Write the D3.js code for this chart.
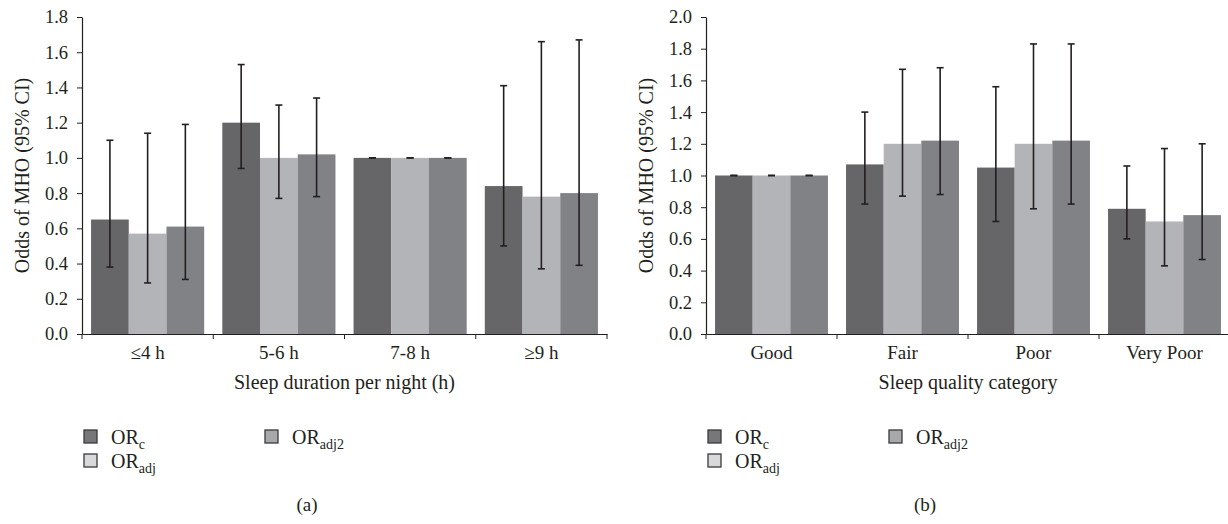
<!DOCTYPE html>
<html>
<head>
<meta charset="utf-8">
<script src="https://cdn.jsdelivr.net/npm/d3@7"></script>
<style>
  body { margin: 0; background: #fff; }
  svg text { font-family: "Liberation Serif", "DejaVu Serif", serif; fill: #231f20; }
</style>
</head>
<body>
<div id="chart"></div>
<script>
// odds ratios of MHO with 95% CI
const series = ['ORc', 'ORadj', 'ORadj2'];

const durationCats = ['≤4 h', '5-6 h', '7-8 h', '≥9 h'];
const durationOR = [
  [0.65, 0.57, 0.61],
  [1.20, 1.00, 1.02],
  [1.00, 1.00, 1.00],
  [0.84, 0.78, 0.80]
];
const durationLow = [
  [0.38, 0.29, 0.31],
  [0.94, 0.77, 0.78],
  [1.00, 1.00, 1.00],
  [0.50, 0.37, 0.39]
];
const durationHigh = [
  [1.10, 1.14, 1.19],
  [1.53, 1.30, 1.34],
  [1.00, 1.00, 1.00],
  [1.41, 1.66, 1.67]
];
const durationTicks = [0, 0.2, 0.4, 0.6, 0.8, 1.0, 1.2, 1.4, 1.6, 1.8];

const qualityCats = ['Good', 'Fair', 'Poor', 'Very Poor'];
const qualityOR = [
  [1.00, 1.00, 1.00],
  [1.07, 1.20, 1.22],
  [1.05, 1.20, 1.22],
  [0.79, 0.71, 0.75]
];
const qualityLow = [
  [1.00, 1.00, 1.00],
  [0.82, 0.87, 0.88],
  [0.71, 0.79, 0.82],
  [0.60, 0.43, 0.47]
];
const qualityHigh = [
  [1.00, 1.00, 1.00],
  [1.40, 1.67, 1.68],
  [1.56, 1.83, 1.83],
  [1.06, 1.17, 1.20]
];
const qualityTicks = [0, 0.2, 0.4, 0.6, 0.8, 1.0, 1.2, 1.4, 1.6, 1.8, 2.0];

const barColors = ['#666668', '#b3b4b8', '#818286'];
const legendColors = ['#77777a', '#d9d9db', '#a7a8ab'];

const W = 1228, H = 524;
const svg = d3.select('#chart').append('svg')
  .attr('width', W)
  .attr('height', H);

function drawPanel(opts) {
  const { left, right, top, bottom, cats, or, lo, hi, ticks, xTitle, tag, tagX } = opts;
  const g = svg.append('g');

  const x = d3.scaleBand().domain(cats).range([left, right]).paddingInner(0).paddingOuter(0);
  const inner = d3.scaleBand().domain(series).range([0, x.bandwidth()]).paddingInner(0).paddingOuter(0.24);
  const y = d3.scaleLinear().domain([0, d3.max(ticks)]).range([bottom, top]);

  // bars
  cats.forEach((c, i) => {
    const grp = g.append('g').attr('transform', `translate(${x(c)},0)`);
    series.forEach((s, j) => {
      grp.append('rect')
        .attr('x', inner(s))
        .attr('y', y(or[i][j]))
        .attr('width', inner.bandwidth())
        .attr('height', y(0) - y(or[i][j]))
        .attr('fill', barColors[j]);
    });
    // error bars
    series.forEach((s, j) => {
      const cx = inner(s) + inner.bandwidth() / 2;
      grp.append('line')
        .attr('x1', cx).attr('x2', cx)
        .attr('y1', y(lo[i][j])).attr('y2', y(hi[i][j]))
        .attr('stroke', '#231f20').attr('stroke-width', 1.6);
      [lo[i][j], hi[i][j]].forEach(v => {
        grp.append('line')
          .attr('x1', cx - 3.5).attr('x2', cx + 3.5)
          .attr('y1', y(v)).attr('y2', y(v))
          .attr('stroke', '#231f20').attr('stroke-width', 1.6);
      });
    });
  });

  // y axis
  const yAxis = g.append('g')
    .attr('transform', `translate(${left},0)`)
    .call(d3.axisLeft(y).tickValues(ticks).tickFormat(d3.format('.1f')).tickSize(5).tickSizeOuter(0).tickPadding(9));
  yAxis.selectAll('text').style('font-size', '18.5px');

  // x axis with ticks on band boundaries
  const xAxis = g.append('g')
    .attr('transform', `translate(0,${bottom})`)
    .call(d3.axisBottom(x).tickSize(0).tickPadding(12));
  xAxis.selectAll('text').style('font-size', '19px');
  const bounds = cats.map(c => x(c)).concat([x(cats[cats.length - 1]) + x.bandwidth()]);
  xAxis.selectAll('.bound').data(bounds).enter().append('line')
    .attr('class', 'bound')
    .attr('x1', d => d).attr('x2', d => d)
    .attr('y1', 0).attr('y2', 5)
    .attr('stroke', '#231f20');

  g.selectAll('.domain').attr('stroke', '#231f20').attr('stroke-width', 1.2);
  g.selectAll('.tick line').attr('stroke', '#231f20');

  // axis titles
  g.append('text')
    .attr('x', (left + right) / 2)
    .attr('y', bottom + 55)
    .attr('text-anchor', 'middle')
    .style('font-size', '20px')
    .text(xTitle);

  g.append('text')
    .attr('transform', `rotate(-90)`)
    .attr('x', -(top + bottom) / 2)
    .attr('y', left - 53)
    .attr('text-anchor', 'middle')
    .style('font-size', '20px')
    .text('Odds of MHO (95% CI)');

  // legend
  const legendPos = [[left + 2, 437], [left + 2, 461], [left + 183, 437]];
  const subs = ['c', 'adj', 'adj2'];
  series.forEach((s, j) => {
    const [lx, ly] = legendPos[j];
    g.append('rect')
      .attr('x', lx).attr('y', ly - 7)
      .attr('width', 13).attr('height', 13)
      .attr('fill', legendColors[j])
      .attr('stroke', '#3a3a3c').attr('stroke-width', 1.3);
    const t = g.append('text')
      .attr('x', lx + 27).attr('y', ly + 7)
      .style('font-size', '20px');
    t.append('tspan').text('OR');
    t.append('tspan').attr('dy', 5).style('font-size', '14px').text(subs[j]);
  });

  g.append('text')
    .attr('x', tagX)
    .attr('y', 511)
    .attr('text-anchor', 'middle')
    .style('font-size', '19px')
    .text(tag);
}

drawPanel({
  left: 82, right: 607, top: 17, bottom: 334,
  cats: durationCats, or: durationOR, lo: durationLow, hi: durationHigh,
  ticks: durationTicks, xTitle: 'Sleep duration per night (h)', tag: '(a)', tagX: 307
});

drawPanel({
  left: 706, right: 1230, top: 17, bottom: 334,
  cats: qualityCats, or: qualityOR, lo: qualityLow, hi: qualityHigh,
  ticks: qualityTicks, xTitle: 'Sleep quality category', tag: '(b)', tagX: 925
});
</script>
</body>
</html>
